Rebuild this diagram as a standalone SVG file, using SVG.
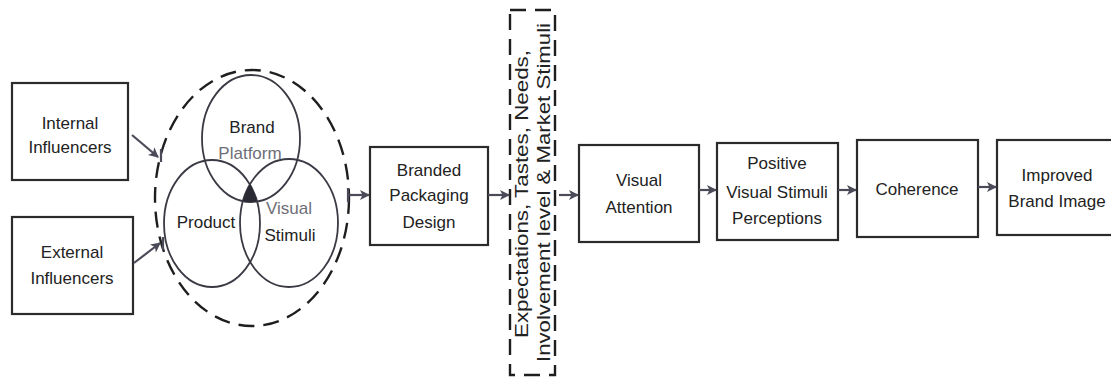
<svg xmlns="http://www.w3.org/2000/svg" width="1111" height="383" viewBox="0 0 1111 383">
<style>
.box{fill:#fff;stroke:#2b2b2b;stroke-width:2.2}
.t{font-family:"Liberation Sans",Arial,sans-serif;font-size:17px;fill:#222;text-anchor:middle}
.g{fill:#6e6e78}
.c{fill:none;stroke:#3a3a44;stroke-width:1.8}
.con{fill:none;stroke:#4a4a58;stroke-width:2.2}
.dash{fill:none;stroke:#1e1e1e;stroke-width:2.4;stroke-dasharray:16 9}
.rt{font-family:"Liberation Sans",Arial,sans-serif;font-size:19px;fill:#222;text-anchor:middle}
</style>
<defs>
<marker id="ah" viewBox="0 0 10 10" refX="9" refY="5" markerWidth="11" markerHeight="10" markerUnits="userSpaceOnUse" orient="auto">
<path d="M0,0 L10,5 L0,10 L2.5,5 Z" fill="#4a4a58"/>
</marker>
<clipPath id="cpP"><ellipse cx="212" cy="223.5" rx="48" ry="63.5"/></clipPath>
<clipPath id="cpV"><ellipse cx="289" cy="223" rx="49" ry="64"/></clipPath>
</defs>
<rect width="1111" height="383" fill="#fff"/>

<g id="internal">
<rect class="box" x="12" y="83" width="116" height="97"/>
<text class="t" x="70" y="129">Internal</text>
<text class="t" x="70" y="153">Influencers</text>
</g>
<g id="external">
<rect class="box" x="12" y="217" width="121" height="97"/>
<text class="t" x="72" y="258">External</text>
<text class="t" x="72" y="284">Influencers</text>
</g>

<g id="venn">
<ellipse class="dash" cx="252" cy="198" rx="97" ry="128"/>
<ellipse class="c" cx="251" cy="138.5" rx="49" ry="63.5"/>
<ellipse class="c" cx="212" cy="223.5" rx="48" ry="63.5"/>
<ellipse class="c" cx="289" cy="223" rx="49" ry="64"/>
<g clip-path="url(#cpV)"><g clip-path="url(#cpP)"><ellipse cx="251" cy="138.5" rx="49" ry="63.5" fill="#2a2a35"/></g></g>
<text class="t" x="252" y="133">Brand</text>
<text class="t g" x="250" y="159">Platform</text>
<text class="t" x="206" y="228">Product</text>
<text class="t g" x="289" y="214">Visual</text>
<text class="t" x="290" y="241">Stimuli</text>
</g>

<g id="branded">
<rect class="box" x="370" y="147" width="118" height="98"/>
<text class="t" x="429" y="176">Branded</text>
<text class="t" x="429" y="201">Packaging</text>
<text class="t" x="429" y="228">Design</text>
</g>

<g id="moderators">
<rect class="dash" x="510" y="10" width="45" height="365"/>
<text class="rt" transform="translate(528,194) rotate(-90)" textLength="288" lengthAdjust="spacingAndGlyphs">Expectations, Tastes, Needs,</text>
<text class="rt" transform="translate(550,192.5) rotate(-90)" textLength="339" lengthAdjust="spacingAndGlyphs">Involvement level &amp; Market Stimuli</text>
</g>

<g id="attention">
<rect class="box" x="579" y="145" width="120" height="97"/>
<text class="t" x="639" y="186">Visual</text>
<text class="t" x="639" y="213">Attention</text>
</g>
<g id="positive">
<rect class="box" x="717" y="143" width="121" height="97"/>
<text class="t" x="777" y="169">Positive</text>
<text class="t" x="777" y="198">Visual Stimuli</text>
<text class="t" x="777" y="224">Perceptions</text>
</g>
<g id="coherence">
<rect class="box" x="857" y="140" width="121" height="97"/>
<text class="t" x="917" y="195">Coherence</text>
</g>
<g id="improved">
<rect class="box" x="997" y="140" width="122" height="95"/>
<text class="t" x="1057" y="181">Improved</text>
<text class="t" x="1057" y="207">Brand Image</text>
</g>

<g id="connectors">
<line class="con" x1="132" y1="135" x2="158" y2="157" marker-end="url(#ah)"/>
<line class="con" x1="161" y1="149" x2="161" y2="162"/>
<line class="con" x1="134" y1="263" x2="160" y2="243" marker-end="url(#ah)"/>
<line class="con" x1="163" y1="237" x2="163" y2="250"/>
<line class="con" x1="348" y1="188" x2="348" y2="202"/>
<line class="con" x1="348" y1="195" x2="369" y2="195" marker-end="url(#ah)"/>
<line class="con" x1="488" y1="195" x2="509" y2="195" marker-end="url(#ah)"/>
<line class="con" x1="559" y1="195" x2="578" y2="195" marker-end="url(#ah)"/>
<line class="con" x1="699" y1="190" x2="716" y2="190" marker-end="url(#ah)"/>
<line class="con" x1="838" y1="190" x2="856" y2="190" marker-end="url(#ah)"/>
<line class="con" x1="978" y1="187" x2="996" y2="187" marker-end="url(#ah)"/>
</g>
</svg>
